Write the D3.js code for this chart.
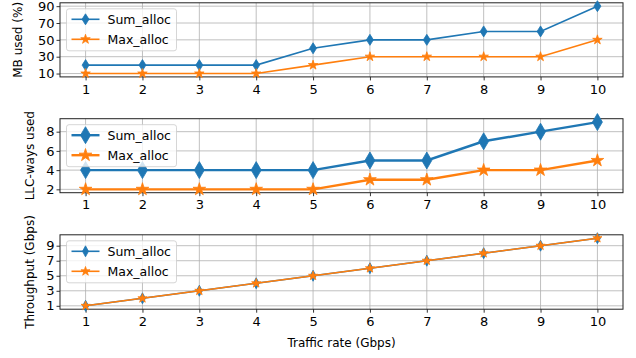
<!DOCTYPE html>
<html><head><meta charset="utf-8">
<script src="https://cdn.jsdelivr.net/npm/d3@7"></script>
<style>body{margin:0;background:#fff}svg{display:block;font-family:"DejaVu Sans",sans-serif}</style>
</head><body><svg id="c" width="636" height="358"></svg>
<script>
const traffic = [1,2,3,4,5,6,7,8,9,10];
const mbSum = [20,20,20,20,40,50,50,60,60,90];
const mbMax = [10,10,10,10,20,30,30,30,30,50];
const llcSum = [4,4,4,4,4,5,5,7,8,9];
const llcMax = [2,2,2,2,2,3,3,4,4,5];
const thrSum = [1,2,3,4,5,6,7,8,9,10];
const thrMax = [1,2,3,4,5,6,7,8,9,10];
const mbTicks = [10,30,50,70,90];
const llcTicks = [2,4,6,8];
const thrTicks = [1,3,5,7,9];
const seriesNames = ["Sum_alloc","Max_alloc"];
const colors = ["#1f77b4","#ff7f0e"];

const svg = d3.select("#c");
const L = 60, R = 623;
const x = d3.scaleLinear().domain([0.55,10.45]).range([L,R]);

function diamondPath(w,h){return `M0,${-h/2}L${w/2},0L0,${h/2}L${-w/2},0Z`;}

const panels = [
  {top:2.8, bottom:76.9, dom:[6,94], ticks:mbTicks, s:[mbSum,mbMax], label:"MB used (%)", labelX:18, lw:1.6, dw:7, dh:11, star:28},
  {top:118.7, bottom:192.7, dom:[1.65,9.35], ticks:llcTicks, s:[llcSum,llcMax], label:"LLC-ways used", labelX:30, lw:2.4, dw:10, dh:17, star:50},
  {top:234.8, bottom:309.2, dom:[0.55,10.45], ticks:thrTicks, s:[thrSum,thrMax], label:"Throughput (Gbps)", labelX:30, lw:1.6, dw:6, dh:11, star:26}
];

panels.forEach(p=>{
  const y = d3.scaleLinear().domain(p.dom).range([p.bottom,p.top]);
  const g = svg.append("g");
  g.selectAll(".gx").data(traffic).enter().append("line")
    .attr("x1",d=>x(d)).attr("x2",d=>x(d)).attr("y1",p.top).attr("y2",p.bottom)
    .attr("stroke","#b0b0b0").attr("stroke-width",0.8);
  g.selectAll(".gy").data(p.ticks).enter().append("line")
    .attr("x1",L).attr("x2",R).attr("y1",d=>y(d)).attr("y2",d=>y(d))
    .attr("stroke","#b0b0b0").attr("stroke-width",0.8);
  const xa = g.append("g").attr("transform",`translate(0,${p.bottom})`)
    .call(d3.axisBottom(x).tickValues(traffic).tickSize(3.5).tickPadding(4).tickFormat(d3.format("d")));
  const ya = g.append("g").attr("transform",`translate(${L},0)`)
    .call(d3.axisLeft(y).tickValues(p.ticks).tickSize(3.5).tickPadding(2).tickFormat(d3.format("d")));
  [xa,ya].forEach(a=>{a.select(".domain").remove();
    a.selectAll("text").attr("font-size",13).attr("fill","#000").attr("font-family","DejaVu Sans");
    a.selectAll("line").attr("stroke","#000").attr("stroke-width",0.8);});
  g.append("rect").attr("x",L).attr("y",p.top).attr("width",R-L).attr("height",p.bottom-p.top)
    .attr("fill","none").attr("stroke","#222").attr("stroke-width",1);
  p.s.forEach((vals,i)=>{
    const line = d3.line().x((d,j)=>x(traffic[j])).y(d=>y(d));
    g.append("path").datum(vals).attr("d",line).attr("fill","none")
      .attr("stroke",colors[i]).attr("stroke-width",p.lw);
    g.selectAll(".m"+i).data(vals).enter().append("path")
      .attr("transform",(d,j)=>`translate(${x(traffic[j])},${y(d)})`)
      .attr("d", i===0 ? diamondPath(p.dw,p.dh) : d3.symbol(d3.symbolStar,p.star)())
      .attr("fill",colors[i]).attr("stroke",colors[i]).attr("stroke-width",0.8);
  });
  const lg = g.append("g").attr("transform",`translate(${66.5},${p.top+6})`);
  lg.append("rect").attr("width",110).attr("height",42).attr("rx",2.5)
    .attr("fill","#fff").attr("fill-opacity",0.8).attr("stroke","#ccc").attr("stroke-width",0.8);
  seriesNames.forEach((n,i)=>{
    const cy = 10.5 + i*20;
    lg.append("line").attr("x1",5).attr("x2",33).attr("y1",cy).attr("y2",cy)
      .attr("stroke",colors[i]).attr("stroke-width",p.lw);
    lg.append("path").attr("transform",`translate(19,${cy})`)
      .attr("d", i===0 ? diamondPath(p.dw,p.dh) : d3.symbol(d3.symbolStar,p.star)())
      .attr("fill",colors[i]).attr("stroke",colors[i]).attr("stroke-width",0.8);
    lg.append("text").attr("x",41).attr("y",cy).attr("dy","0.35em")
      .attr("font-size",12.5).text(n);
  });
  svg.append("text").attr("transform",`translate(${p.labelX},${(p.top+p.bottom)/2}) rotate(-90)`)
    .attr("text-anchor","middle").attr("dy","0.35em").attr("font-size",12).text(p.label);
});
svg.append("text").attr("x",(L+R)/2).attr("y",343).attr("text-anchor","middle")
  .attr("dy","0.35em").attr("font-size",12).text("Traffic rate (Gbps)");
</script></body></html>
